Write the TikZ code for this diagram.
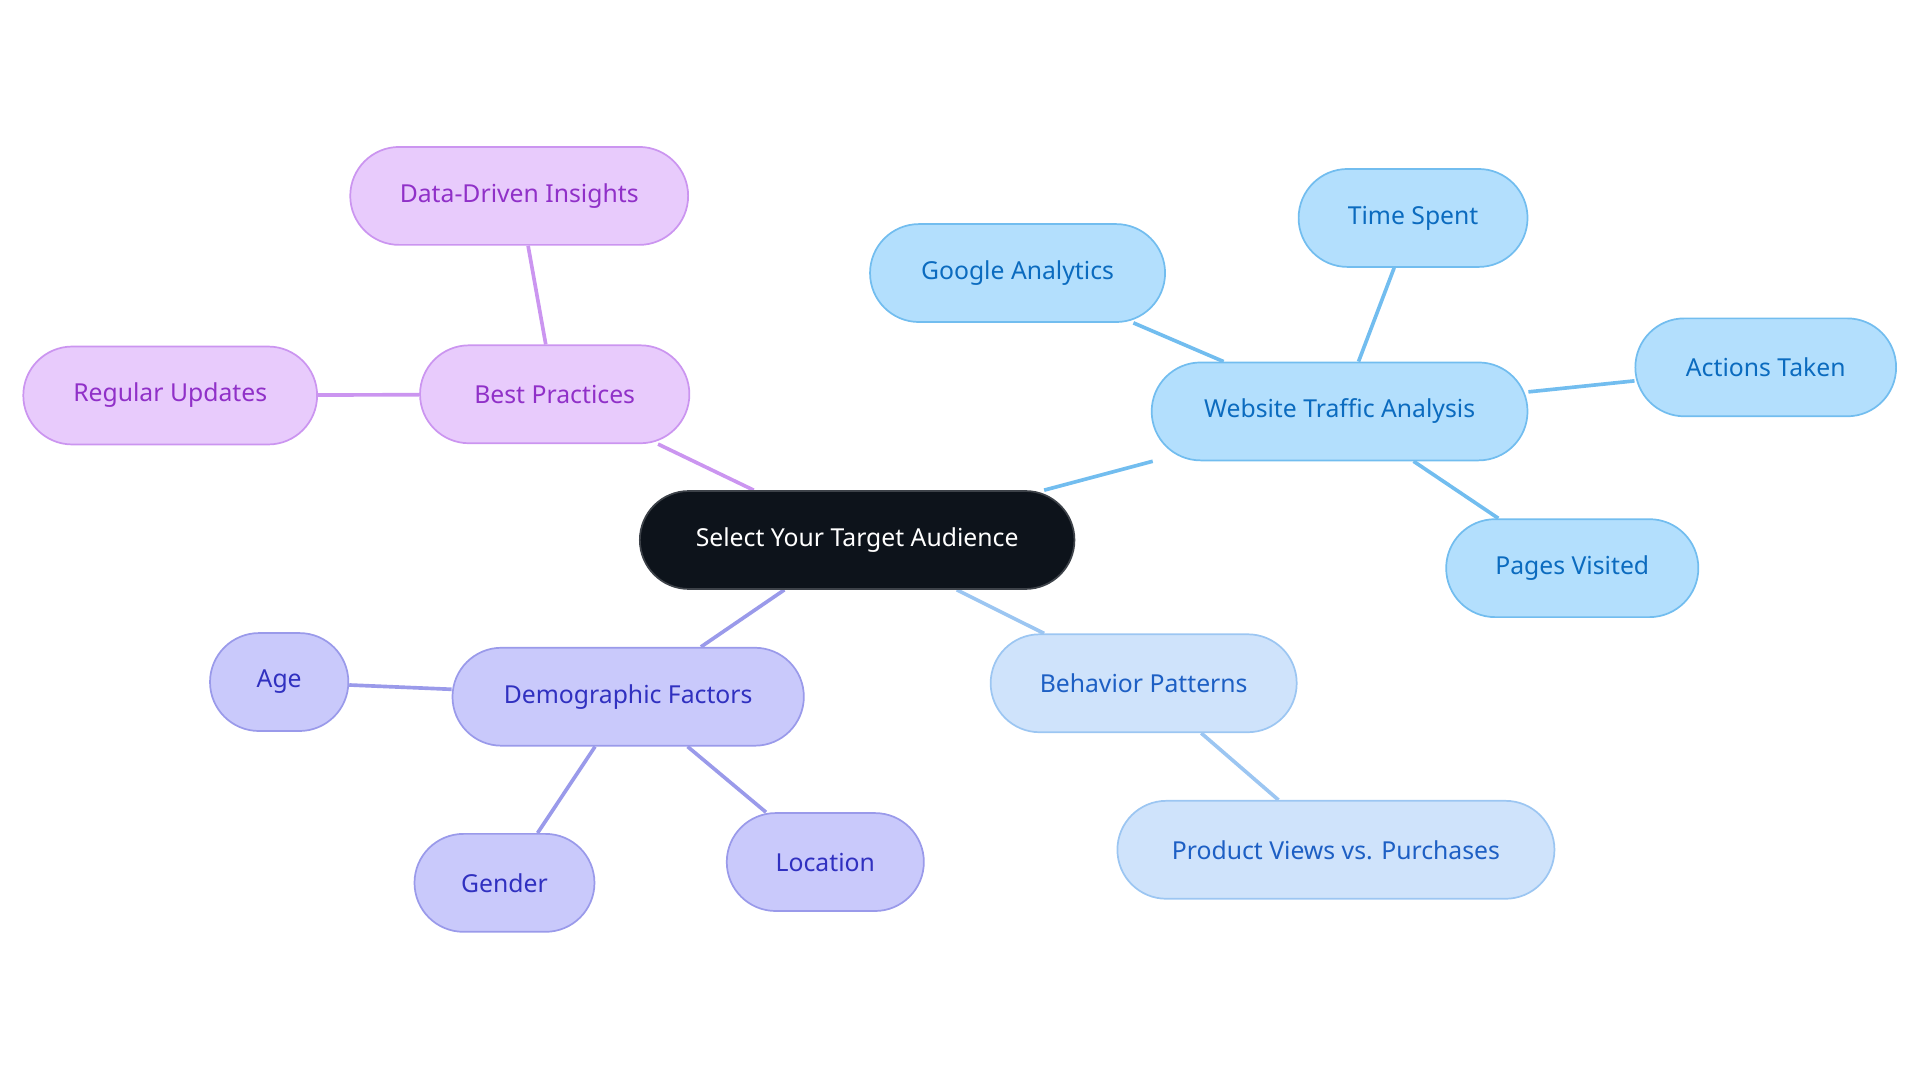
\documentclass[tikz,border=0pt]{standalone}
\usepackage{fontspec}
\setmainfont{Noto Sans}
\usetikzlibrary{backgrounds}
\definecolor{rootfill}{HTML}{0D131B}
\definecolor{webfill}{HTML}{B3DFFD}
\definecolor{webline}{HTML}{72BDEF}
\definecolor{webtext}{HTML}{0B6BBF}
\definecolor{behfill}{HTML}{CFE3FB}
\definecolor{behline}{HTML}{9CC6F2}
\definecolor{behtext}{HTML}{1D5FC4}
\definecolor{demfill}{HTML}{C9C9FB}
\definecolor{demline}{HTML}{9A9AEA}
\definecolor{demtext}{HTML}{3030C0}
\definecolor{bestfill}{HTML}{E8CBFC}
\definecolor{bestline}{HTML}{CB95F0}
\definecolor{besttext}{HTML}{9030C8}

\begin{document}
\begin{tikzpicture}[
     x=0.02cm, y=-0.02cm,
     box/.style={rounded corners=0.8cm, minimum height=1.6cm, line width=0.8pt,
       font=\fontsize{11.5}{14}\selectfont},
     rootbox/.style={box, fill=rootfill, draw=rootfill!80!white, text=white},
     webbox/.style={box, fill=webfill, draw=webline, text=webtext},
     behbox/.style={box, fill=behfill, draw=behline, text=behtext},
     dembox/.style={box, fill=demfill, draw=demline, text=demtext},
     bestbox/.style={box, fill=bestfill, draw=bestline, text=besttext},
     link/.style={line width=1.7pt}
   ]
   \path[use as bounding box] (0,0) rectangle (1568,884);
   % Centre.
   \node[rootbox, minimum width=7.1cm] (root) at (700,441) {Select Your Target Audience};
   % Website traffic.
   \node[webbox, minimum width=6.14cm] (web) at (1094,336) {Website Traffic Analysis};
   \node[webbox, minimum width=4.82cm] (google) at (831,223) {Google Analytics};
   \node[webbox, minimum width=3.74cm] (time) at (1154,178) {Time Spent};
   \node[webbox, minimum width=4.26cm] (actions) at (1442,300) {Actions Taken};
   \node[webbox, minimum width=4.12cm] (pages) at (1284,464) {Pages Visited};
   % Behaviour.
   \node[behbox, minimum width=5.0cm] (behav) at (934,558) {Behavior Patterns};
   \node[behbox, minimum width=7.14cm] (views) at (1091,694) {Product Views vs. Purchases};
   % Demographics.
   \node[dembox, minimum width=5.74cm] (demo) at (513,569) {Demographic Factors};
   \node[dembox, minimum width=2.26cm] (age) at (228,557) {Age};
   \node[dembox, minimum width=2.94cm] (gender) at (412,721) {Gender};
   \node[dembox, minimum width=3.22cm] (location) at (674,704) {Location};
   % Best practices.
   \node[bestbox, minimum width=4.4cm] (best) at (453,322) {Best Practices};
   \node[bestbox, minimum width=5.52cm] (insights) at (424,160) {Data-Driven Insights};
   \node[bestbox, minimum width=4.8cm] (updates) at (139,323) {Regular Updates};
   % Links.
   \begin{scope}[on background layer]
     \draw[link, webline] (root) -- (web);
     \draw[link, webline] (web) -- (google);
     \draw[link, webline] (web) -- (time);
     \draw[link, webline] (web) -- (actions);
     \draw[link, webline] (web) -- (pages);
     \draw[link, behline] (root) -- (behav);
     \draw[link, behline] (behav) -- (views);
     \draw[link, demline] (root) -- (demo);
     \draw[link, demline] (demo) -- (age);
     \draw[link, demline] (demo) -- (gender);
     \draw[link, demline] (demo) -- (location);
     \draw[link, bestline] (root) -- (best);
     \draw[link, bestline] (best) -- (insights);
     \draw[link, bestline] (best) -- (updates);
   \end{scope}
 \end{tikzpicture}
\end{document}
